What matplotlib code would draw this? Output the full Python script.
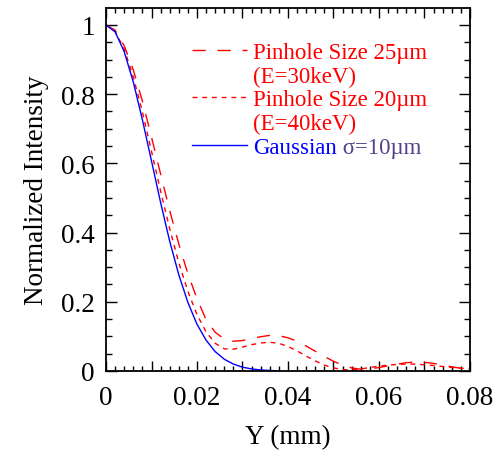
import matplotlib
matplotlib.use("Agg")
import matplotlib.pyplot as plt
from matplotlib.ticker import MultipleLocator, FuncFormatter
from matplotlib.lines import Line2D

# ---- data ----
y_gauss = [0.000, 0.002, 0.004, 0.006, 0.008, 0.010, 0.012, 0.014, 0.016, 0.018,
           0.020, 0.022, 0.024, 0.026, 0.028, 0.030, 0.032, 0.034, 0.036, 0.038]
i_gauss = [1.000, 0.980, 0.923, 0.835, 0.726, 0.607, 0.487, 0.375, 0.278, 0.198,
           0.135, 0.089, 0.056, 0.034, 0.020, 0.011, 0.006, 0.003, 0.0015, 0.0005]

y_25 = [0.000, 0.002, 0.004, 0.006, 0.008, 0.010, 0.012, 0.014, 0.016, 0.018,
        0.020, 0.022, 0.024, 0.026, 0.028, 0.030, 0.032, 0.034, 0.036, 0.038,
        0.040, 0.042, 0.044, 0.046, 0.048, 0.050, 0.052, 0.054, 0.056, 0.058,
        0.060, 0.062, 0.064, 0.066, 0.068, 0.070, 0.072, 0.074, 0.076, 0.078, 0.080]
i_25 = [1.000, 0.985, 0.940, 0.870, 0.780, 0.676, 0.569, 0.464, 0.367, 0.281,
        0.209, 0.148, 0.112, 0.092, 0.086, 0.088, 0.094, 0.099, 0.103, 0.102,
        0.096, 0.086, 0.072, 0.057, 0.042, 0.028, 0.017, 0.009, 0.005, 0.006,
        0.010, 0.015, 0.020, 0.024, 0.026, 0.025, 0.022, 0.017, 0.012, 0.008, 0.006]

y_20 = [0.000, 0.002, 0.004, 0.006, 0.008, 0.010, 0.012, 0.014, 0.016, 0.018,
        0.020, 0.022, 0.024, 0.026, 0.028, 0.030, 0.032, 0.034, 0.036, 0.038,
        0.040, 0.042, 0.044, 0.046, 0.048, 0.050, 0.052, 0.054, 0.056, 0.058,
        0.060, 0.062, 0.064, 0.066, 0.068, 0.070, 0.072, 0.074, 0.076, 0.078, 0.080]
i_20 = [1.000, 0.982, 0.930, 0.850, 0.748, 0.635, 0.520, 0.411, 0.313, 0.230,
        0.163, 0.113, 0.080, 0.064, 0.063, 0.069, 0.076, 0.081, 0.083, 0.080,
        0.071, 0.058, 0.043, 0.029, 0.017, 0.009, 0.004, 0.003, 0.006, 0.010,
        0.014, 0.017, 0.019, 0.020, 0.020, 0.018, 0.016, 0.013, 0.010, 0.008, 0.007]

labels_25 = ["Pinhole Size 25\u00b5m", "(E=30keV)"]
labels_20 = ["Pinhole Size 20\u00b5m", "(E=40keV)"]
label_gauss = "Gaussian"
label_sigma = "\u03c3=10\u00b5m"

plt.rcParams['font.family'] = ['Liberation Serif', 'DejaVu Serif']

fig = plt.figure(figsize=(4.99, 4.56), dpi=100)
ax = fig.add_axes([106/499, 1-372/456, 364/499, 363/456])

red = '#ff0000'
blue = '#0000ff'
l25, = ax.plot(y_25, i_25, color=red, lw=1.0, dashes=(9.5, 8.5))
l20, = ax.plot(y_20, i_20, color=red, lw=1.0, dashes=(3.5, 3.5))
lg, = ax.plot(y_gauss, i_gauss, color=blue, lw=1.0)

ax.set_xlim(0, 0.08)
ax.set_ylim(0, 1.049)

ax.xaxis.set_major_locator(MultipleLocator(0.01))
ax.xaxis.set_minor_locator(MultipleLocator(0.002))
ax.yaxis.set_major_locator(MultipleLocator(0.2))
ax.yaxis.set_minor_locator(MultipleLocator(0.05))

def xfmt(v, pos):
    k = int(round(v / 0.01))
    if k % 2:
        return ""
    if k == 0:
        return "0"
    return ("%.2f" % v)

def yfmt(v, pos):
    if abs(v) < 1e-9:
        return "0"
    if abs(v - 1) < 1e-9:
        return "1"
    return ("%.1f" % v)

ax.xaxis.set_major_formatter(FuncFormatter(xfmt))
ax.yaxis.set_major_formatter(FuncFormatter(yfmt))

ax.tick_params(which='both', direction='in', top=True, right=True, width=1.0,
               labelsize=19.5, colors='black')
ax.tick_params(axis='x', which='major', length=7, pad=10)
ax.tick_params(axis='x', which='minor', length=3.5)
ax.tick_params(axis='y', which='major', length=8, pad=8)
ax.tick_params(axis='y', which='minor', length=4.5)
for s in ax.spines.values():
    s.set_linewidth(1.3)

ax.set_xlabel("Y (mm)", fontsize=19.5, labelpad=10)
ax.set_ylabel("Normalized Intensity", fontsize=19.5, labelpad=9)

blank = Line2D([], [], color='none')
h25 = Line2D([], [], color=red, lw=1.0, dashes=(9.5, 8.5))
h20 = Line2D([], [], color=red, lw=1.0, dashes=(3.5, 3.5))
hg = Line2D([], [], color=blue, lw=1.0)
leg = ax.legend([h25, blank, h20, blank, hg],
                [labels_25[0], labels_25[1], labels_20[0], labels_20[1], label_gauss],
                loc='upper left', bbox_to_anchor=((192-106)/364, 1-(43-9)/363),
                frameon=False, fontsize=16.5, handlelength=2.4, handletextpad=0.27,
                labelspacing=0.11, borderpad=0, borderaxespad=0)
texts = leg.get_texts()
for t, c in zip(texts, [red, red, red, red, blue]):
    t.set_color(c)

ax.annotate(" " + label_sigma, xy=(1, 0), xycoords=texts[4], fontsize=16.5,
            color='#55408a', va='bottom', ha='left', zorder=10)

fig.savefig("out.png", dpi=100)
